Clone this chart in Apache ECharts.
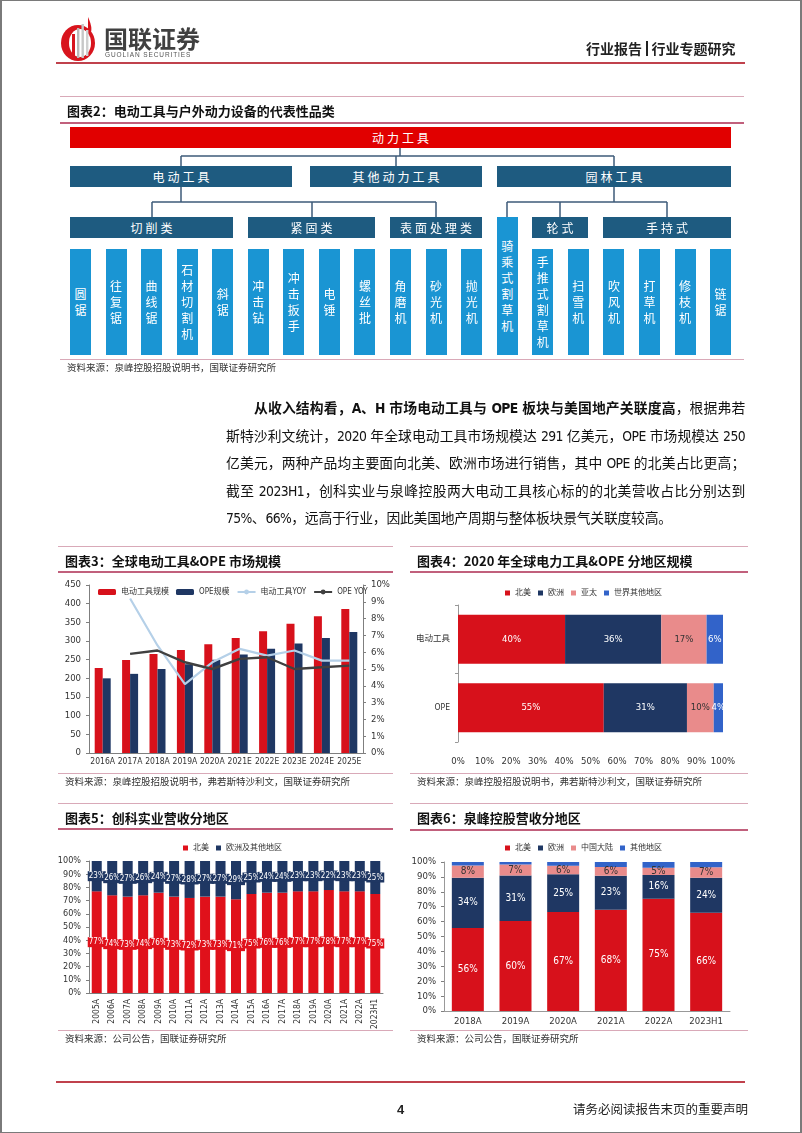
<!DOCTYPE html>
<html><head><meta charset="utf-8">
<script src="https://cdn.jsdelivr.net/npm/echarts@6/dist/echarts.min.js"></script>
<style>
html,body{margin:0;padding:0;background:#fff;}
#page{position:relative;width:802px;height:1133px;overflow:hidden;background:#fff;font-family:"Noto Sans CJK SC",sans-serif;color:#222;}
#frame{position:absolute;left:0;top:0;width:802px;height:1133px;box-sizing:border-box;border:1px solid #7a7a7a;border-left-width:2px;border-right-width:2px;pointer-events:none;z-index:10;}
.a{position:absolute;white-space:nowrap;}
.ch{position:absolute;left:0;top:0;width:802px;height:1133px;}
.leaf{position:absolute;background:#1a95d3;color:#fff;font-size:12px;display:flex;flex-direction:column;align-items:center;justify-content:center;}
.leaf span{display:block;line-height:16px;height:16px;}
.para{position:absolute;left:226px;width:519px;font-size:13.8px;letter-spacing:-0.2px;font-family:"Liberation Sans Narrow","DejaVu Sans Condensed","Noto Sans CJK SC",sans-serif;color:#111;white-space:nowrap;text-align:justify;text-align-last:justify;line-height:20px;}
.para .n{letter-spacing:-0.6px;}
</style></head>
<body>
<div id="page">
<div id="frame"></div>
<div id="c3" class="ch"></div>
<div id="c4" class="ch"></div>
<div id="c5" class="ch"></div>
<div id="c6" class="ch"></div>
</div>
<script>
// ---------------- DATA ----------------
const c3Years = ['2016A','2017A','2018A','2019A','2020A','2021E','2022E','2023E','2024E','2025E'];
const c3PowerTools = [228,249,265,276,291,308,326,346,366,386];
const c3Ope = [200,212,225,238,250,264,279,293,308,324];
const c3PowerYoy = [null,9.2,6.4,4.1,5.4,6.2,5.8,6.1,5.5,5.5];
const c3OpeYoy = [null,5.9,6.1,5.4,5.0,5.6,5.7,5.0,5.1,5.2];
const c3Ticks = [0,450,50];
const c3YoyTicks = [0,10,1];

const c4Cats = ['电动工具','OPE'];
const c4NorthAmerica = [40.4,55.0];
const c4Europe = [36.3,31.4];
const c4AsiaPac = [17.1,10.1];
const c4RestWorld = [6.2,3.5];

const c5Years = ['2005A','2006A','2007A','2008A','2009A','2010A','2011A','2012A','2013A','2014A','2015A','2016A','2017A','2018A','2019A','2020A','2021A','2022A','2023H1'];
const c5NorthAmerica = [77,74,73,74,76,73,72,73,73,71,75,76,76,77,77,78,77,77,75];
const c5EuropeOther = [23,26,27,26,24,27,28,27,27,29,25,24,24,23,23,22,23,23,25];

const c6Years = ['2018A','2019A','2020A','2021A','2022A','2023H1'];
const c6NorthAmerica = [55.7,60.4,66.5,67.9,75.4,66.0];
const c6Europe = [33.8,30.6,25.2,22.9,15.8,23.5];
const c6China = [8.2,7.3,5.7,5.9,5.0,7.0];
const c6Other = [2.3,1.7,2.6,3.3,3.8,3.5];

const treeLeaves = ['圆锯','往复锯','曲线锯','石材切割机','斜锯','冲击钻','冲击扳手','电锤','螺丝批','角磨机','砂光机','抛光机','骑乘式割草机','手推式割草机','扫雪机','吹风机','打草机','修枝机','链锯'];

// ---------------- PAGE ----------------
const page = document.getElementById('page');
function add(html, css){ const d=document.createElement('div'); d.className='a'; d.innerHTML=html; Object.assign(d.style, css); page.appendChild(d); return d; }
function txt(x, yc, html, size, extra){ const lh=size+6; return add(html, Object.assign({left:x+'px', top:(yc-lh/2)+'px', lineHeight:lh+'px', fontSize:size+'px'}, extra||{})); }
function hline(x1,x2,y,color,w){ add('', {left:x1+'px', top:(y-w/2)+'px', width:(x2-x1)+'px', height:w+'px', background:color}); }

// header
add('<svg width="42" height="46" viewBox="0 0 42 46"><path d="M30 1 C33 8 34 12 33 16 L30 16 Z" fill="#d8141d"/><ellipse cx="20" cy="27" rx="17" ry="18" fill="#d8141d"/><ellipse cx="22" cy="27" rx="11" ry="14" fill="#fff"/><rect x="14" y="18" width="3" height="24" fill="#d8141d"/><rect x="19" y="12" width="2.4" height="30" fill="#b9b9b9"/><rect x="23.5" y="8" width="2.4" height="34" fill="#c7c7c7"/><rect x="28" y="14" width="2.4" height="26" fill="#d0d0d0"/></svg>', {left:'58px', top:'16px'});
txt(104, 38, '国联证券', 24, {fontWeight:'bold', color:'#404040'});
txt(105, 55, 'GUOLIAN SECURITIES', 6.5, {color:'#555', letterSpacing:'0.9px', fontFamily:'Liberation Sans, sans-serif'});
txt(586, 48, '行业报告<span style="display:inline-block;width:1.5px;height:15px;background:#222;margin:0 4px;vertical-align:-2px"></span>行业专题研究', 14, {fontWeight:'bold', color:'#222'});
hline(56, 745, 63, '#c0414c', 1.6);

// figure 2
hline(60, 744, 96, '#d9a9b8', 1);
txt(67, 110, '图表2：电动工具与户外动力设备的代表性品类', 13, {fontWeight:'bold', color:'#111'});
hline(60, 744, 123, '#c1607c', 1.6);
function box(x1,x2,y1,y2,label,bg){ add(label, {left:x1+'px', top:y1+'px', width:(x2-x1)+'px', height:(y2-y1)+'px', lineHeight:(y2-y1)+'px', background:bg, color:'#fff', textAlign:'center', fontSize:'12px', letterSpacing:'3px', textIndent:'3px'}); }
const dark = '#1e5b80';
box(70,731,127,148,'动力工具','#e10000');
box(70,292,166,187,'电动工具',dark);
box(310,482,166,187,'其他动力工具',dark);
box(497,731,166,187,'园林工具',dark);
box(70,233,217,238,'切削类',dark);
box(248,375,217,238,'紧固类',dark);
box(390,482,217,238,'表面处理类',dark);
box(532,588,217,238,'轮式',dark);
box(603,731,217,238,'手持式',dark);
treeLeaves.forEach((name,i)=>{
  const d=document.createElement('div'); d.className='leaf';
  const x = 70 + i*35.56; const top = (i===12)?217:249;
  Object.assign(d.style,{left:x+'px', top:top+'px', width:'21px', height:(355-top)+'px'});
  d.innerHTML = name.split('').map(c=>'<span>'+c+'</span>').join('');
  page.appendChild(d);
});
const segs = [[400,148,400,156],[181,156,614,156],[181,156,181,166],[396,156,396,166],[614,156,614,166],
  [181,187,181,202],[152,202,436,202],[152,202,152,217],[312,202,312,217],[436,202,436,217],
  [614,187,614,202],[507,202,667,202],[507,202,507,217],[560,202,560,217],[667,202,667,217]];
add('<svg width="802" height="400">'+segs.map(s=>`<line x1="${s[0]}" y1="${s[1]}" x2="${s[2]}" y2="${s[3]}" stroke="#3d5a78" stroke-width="1.5"/>`).join('')+'</svg>', {left:'0px', top:'0px'});
hline(60, 744, 359, '#d9a9b8', 1);
txt(67, 368, '资料来源：泉峰控股招股说明书，国联证券研究所', 9.5, {color:'#333'});

// paragraph
const paraLines = [
  '<b>从收入结构看，<span class="n">A</span>、<span class="n">H</span> 市场电动工具与 <span class="n">OPE</span> 板块与美国地产关联度高</b>，根据弗若',
  '斯特沙利文统计，<span class="n">2020</span> 年全球电动工具市场规模达 <span class="n">291</span> 亿美元，<span class="n">OPE</span> 市场规模达 <span class="n">250</span>',
  '亿美元，两种产品均主要面向北美、欧洲市场进行销售，其中 <span class="n">OPE</span> 的北美占比更高；',
  '截至 <span class="n">2023H1</span>，创科实业与泉峰控股两大电动工具核心标的的北美营收占比分别达到',
  '<span class="n">75%</span>、<span class="n">66%</span>，远高于行业，因此美国地产周期与整体板块景气关联度较高。'];
paraLines.forEach((l,i)=>{
  const d=document.createElement('div'); d.className='para'; d.innerHTML=l;
  const yc = 408 + i*27.5;
  d.style.top=(yc-10)+'px';
  if(i===0){ d.style.left='254px'; d.style.width='491px'; }
  if(i===4){ d.style.textAlign='left'; d.style.textAlignLast='left'; }
  page.appendChild(d);
});

// chart frames
function frame(x1,x2,yTop,yTitle,yUnder,yBottom,title,source){
  hline(x1,x2,yTop,'#d9a9b8',1);
  txt(x1+7, yTitle, title, 13, {fontWeight:'bold', color:'#111'});
  hline(x1,x2,yUnder,'#c1607c',1.6);
  hline(x1,x2,yBottom,'#d9a9b8',1);
  txt(x1+7, yBottom+9, source, 9.5, {color:'#333'});
}
frame(58,393,546,560,572,773,'图表3：全球电动工具&OPE 市场规模','资料来源：泉峰控股招股说明书，弗若斯特沙利文，国联证券研究所');
frame(410,748,546,560,572,773,'图表4：2020 年全球电力工具&OPE 分地区规模','资料来源：泉峰控股招股说明书，弗若斯特沙利文，国联证券研究所');
frame(58,393,803,817,829,1030,'图表5：创科实业营收分地区','资料来源：公司公告，国联证券研究所');
frame(410,748,803,817,830,1030,'图表6：泉峰控股营收分地区','资料来源：公司公告，国联证券研究所');

// footer
hline(56, 745, 1082, '#c0414c', 1.6);
txt(397, 1109, '4', 13, {fontWeight:'bold', color:'#222', fontFamily:'Liberation Sans, sans-serif'});
txt(573, 1109, '请务必阅读报告末页的重要声明', 12.5, {color:'#222'});

// ---------------- CHARTS ----------------
const F = "'Liberation Sans Narrow','DejaVu Sans Condensed','Arial Narrow','Noto Sans CJK SC',sans-serif";
const AX = '#7f7f7f';
const RED = '#d7111b', NAVY = '#1f3763', PINK = '#e98b8b', BLUE = '#3263c9';
const pct = p => Math.round(p.value) + '%';
function axisCommon(){ return {axisLine:{show:true,lineStyle:{color:AX}}, axisTick:{show:true,length:3,lineStyle:{color:AX}}, splitLine:{show:false}, axisLabel:{fontSize:9.5,color:'#333',fontFamily:F}}; }
const smallLegend = {icon:'rect', itemWidth:5, itemHeight:5, itemGap:7, textStyle:{fontSize:8,color:'#333'}};

const ch3 = echarts.init(document.getElementById('c3'));
ch3.setOption({
  animation:false, textStyle:{fontFamily:F},
  legend:{left:93, top:583, itemWidth:18, itemHeight:6, itemGap:7, textStyle:{fontSize:8,color:'#333',fontFamily:F},
    data:['电动工具规模','OPE规模','电动工具YOY','OPE YOY']},
  grid:{left:89, top:585, width:274, height:168},
  xAxis:{type:'category', data:c3Years, axisLine:{lineStyle:{color:AX}}, axisTick:{show:false}, axisLabel:{interval:0,fontSize:8.5,color:'#333',margin:5,fontFamily:F}},
  yAxis:[Object.assign(axisCommon(),{type:'value',min:c3Ticks[0],max:c3Ticks[1],interval:c3Ticks[2]}),
         Object.assign(axisCommon(),{type:'value',position:'right',min:c3YoyTicks[0],max:c3YoyTicks[1],interval:c3YoyTicks[2],axisLabel:{formatter:'{value}%',fontSize:9.5,color:'#333',fontFamily:F}})],
  series:[
    {name:'电动工具规模',type:'bar',data:c3PowerTools,barWidth:8,barGap:'0%',itemStyle:{color:RED}},
    {name:'OPE规模',type:'bar',data:c3Ope,barWidth:8,itemStyle:{color:NAVY}},
    {name:'电动工具YOY',type:'line',yAxisIndex:1,data:c3PowerYoy,symbol:'none',lineStyle:{color:'#b5d0e8',width:2.2},itemStyle:{color:'#b5d0e8'}},
    {name:'OPE YOY',type:'line',yAxisIndex:1,data:c3OpeYoy,symbol:'none',lineStyle:{color:'#404040',width:2.4},itemStyle:{color:'#404040'}}
  ]
});

function hbar(name,data,color,labelColor){ return {name,type:'bar',stack:'s',data,barWidth:49,itemStyle:{color},label:{show:true,position:'inside',formatter:pct,color:labelColor,fontSize:9.5,fontFamily:F}}; }
const ch4 = echarts.init(document.getElementById('c4'));
ch4.setOption({
  animation:false, textStyle:{fontFamily:F},
  legend:Object.assign({left:500, top:584}, smallLegend),
  grid:{left:458, top:605, width:265, height:137},
  xAxis:{type:'value',min:0,max:100,interval:10,axisLine:{show:false},axisTick:{show:false},splitLine:{show:false},axisLabel:{formatter:'{value}%',fontSize:9.5,color:'#333',margin:15,fontFamily:F}},
  yAxis:{type:'category',inverse:true,data:c4Cats,axisLine:{show:true,lineStyle:{color:'#999'}},axisTick:{show:true,length:3,lineStyle:{color:'#999'}},axisLabel:{fontSize:8.5,color:'#333',margin:8}},
  series:[hbar('北美',c4NorthAmerica,RED,'#fff'),hbar('欧洲',c4Europe,NAVY,'#fff'),hbar('亚太',c4AsiaPac,PINK,'#333'),hbar('世界其他地区',c4RestWorld,BLUE,'#fff')]
});

function vbar5(name,data,color){ return {name,type:'bar',stack:'s',data,barWidth:10,itemStyle:{color},label:{show:true,position:'inside',formatter:pct,color:'#fff',fontSize:8,fontFamily:F,backgroundColor:color,padding:[1,1]}}; }
const ch5 = echarts.init(document.getElementById('c5'));
ch5.setOption({
  animation:false, textStyle:{fontFamily:F},
  legend:Object.assign({left:178, top:839}, smallLegend),
  grid:{left:89, top:861, width:294, height:132},
  xAxis:{type:'category',data:c5Years,axisLine:{lineStyle:{color:AX}},axisTick:{show:false},axisLabel:{interval:0,rotate:90,fontSize:8.5,color:'#333',margin:6,fontFamily:F}},
  yAxis:Object.assign(axisCommon(),{type:'value',min:0,max:100,interval:10,axisLabel:{formatter:'{value}%',fontSize:9,color:'#333',fontFamily:F}}),
  series:[vbar5('北美',c5NorthAmerica,'#e0111b'),vbar5('欧洲及其他地区',c5EuropeOther,NAVY)]
});

function vbar6(name,data,color,labelColor){ return {name,type:'bar',stack:'s',data,barWidth:32,itemStyle:{color},label:{show:!!labelColor,position:'inside',formatter:pct,color:labelColor||'#fff',fontSize:10,fontFamily:F}}; }
const ch6 = echarts.init(document.getElementById('c6'));
ch6.setOption({
  animation:false, textStyle:{fontFamily:F},
  legend:Object.assign({left:500, top:839}, smallLegend),
  grid:{left:444, top:862, width:286, height:149},
  xAxis:{type:'category',data:c6Years,axisLine:{lineStyle:{color:'#999'}},axisTick:{show:false},axisLabel:{fontSize:9.5,color:'#333',margin:6,fontFamily:F}},
  yAxis:Object.assign(axisCommon(),{type:'value',min:0,max:100,interval:10,axisLine:{show:true,lineStyle:{color:'#999'}},axisLabel:{formatter:'{value}%',fontSize:9.5,color:'#333',fontFamily:F}}),
  series:[vbar6('北美',c6NorthAmerica,RED,'#fff'),vbar6('欧洲',c6Europe,NAVY,'#fff'),vbar6('中国大陆',c6China,PINK,'#333'),vbar6('其他地区',c6Other,BLUE,null)]
});
</script>
</body></html>
